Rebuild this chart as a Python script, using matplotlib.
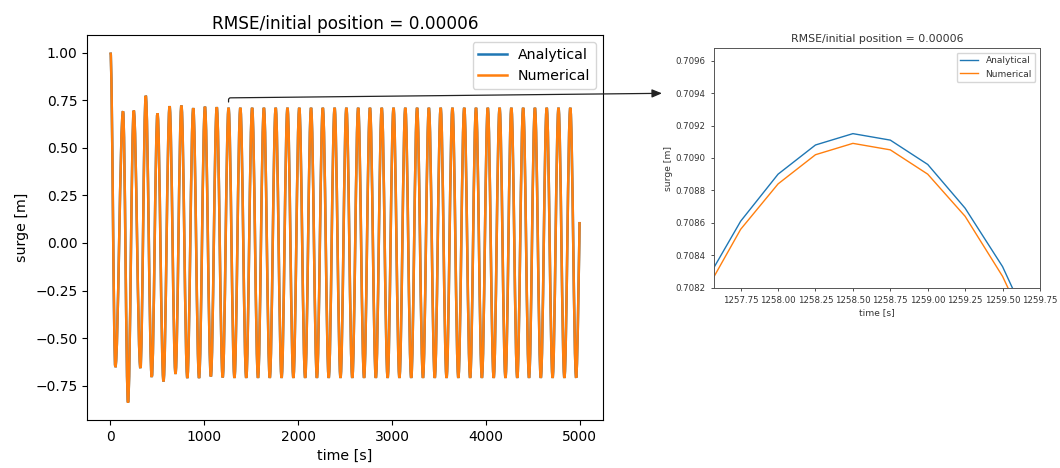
# surge decay: full record on the left, zoom around the 1258.5 s peak on the right

import matplotlib
matplotlib.use('Agg')
import numpy as np
import matplotlib.pyplot as plt
from matplotlib.path import Path
from matplotlib.patches import PathPatch

# extrema of the surge record (time [s], surge [m])
surge_t = [0, 52, 134, 187, 248, 319, 376, 440, 501, 565, 630, 693, 756, 819,
           882, 944, 1007, 1070, 1133, 1196,
           1258.5, 1321.3, 1384.1, 1446.9, 1509.7, 1572.5, 1635.3, 1698.1,
           1760.9, 1823.7, 1886.5, 1949.3, 2012.1, 2074.9, 2137.7, 2200.5,
           2263.3, 2326.1, 2388.9, 2451.7, 2514.5, 2577.3, 2640.1, 2702.9,
           2765.7, 2828.5, 2891.3, 2954.1, 3016.9, 3079.7, 3142.5, 3205.3,
           3268.1, 3330.9, 3393.7, 3456.5, 3519.3, 3582.1, 3644.9, 3707.7,
           3770.5, 3833.3, 3896.1, 3958.9, 4021.7, 4084.5, 4147.3, 4210.1,
           4272.9, 4335.7, 4398.5, 4461.3, 4524.1, 4586.9, 4649.7, 4712.5,
           4775.3, 4838.1, 4900.9, 4963.7, 5000]
surge_analytical = [1.000, -0.652, 0.691, -0.838, 0.695, -0.657, 0.773, -0.704,
                    0.680, -0.727, 0.717, -0.687, 0.721, -0.709, 0.707, -0.709,
                    0.715, -0.701, 0.712, -0.706,
                    0.709, -0.708, 0.709, -0.708, 0.709, -0.708, 0.709, -0.708,
                    0.709, -0.708, 0.709, -0.708, 0.709, -0.708, 0.709, -0.708,
                    0.709, -0.708, 0.709, -0.708, 0.709, -0.708, 0.709, -0.708,
                    0.709, -0.708, 0.709, -0.708, 0.709, -0.708, 0.709, -0.708,
                    0.709, -0.708, 0.709, -0.708, 0.709, -0.708, 0.709, -0.708,
                    0.709, -0.708, 0.709, -0.708, 0.709, -0.708, 0.709, -0.708,
                    0.709, -0.708, 0.709, -0.708, 0.709, -0.708, 0.709, -0.708,
                    0.709, -0.708, 0.709, -0.708, 0.110]
surge_numerical = list(surge_analytical)  # differences are far below pixel size

# zoomed window, 0.25 s steps
zoom_t = [1257.5, 1257.75, 1258.0, 1258.25, 1258.5, 1258.75, 1259.0, 1259.25,
          1259.5, 1259.75]
zoom_analytical = [0.70821, 0.70861, 0.70890, 0.70908, 0.70915, 0.70911,
                   0.70896, 0.70869, 0.70833, 0.70783]
zoom_numerical = [0.70815, 0.70856, 0.70884, 0.70902, 0.70909, 0.70905,
                  0.70890, 0.70864, 0.70827, 0.70778]

title = 'RMSE/initial position = 0.00006'
blue, orange = '#1f77b4', '#ff7f0e'


def extrema_path(t, y):
    # cubic bezier between successive extrema, flat tangent at each extremum
    k = 1 - 2 / np.pi
    verts = [(t[0], y[0])]
    codes = [Path.MOVETO]
    for i in range(len(t) - 1):
        a = k * (t[i + 1] - t[i])
        end = i + 1 == len(t) - 1
        c2 = (t[i + 1], y[i + 1]) if end else (t[i + 1] - a, y[i + 1])
        verts += [(t[i] + a, y[i]), c2, (t[i + 1], y[i + 1])]
        codes += [Path.CURVE4] * 3
    return Path(verts, codes)


fig = plt.figure(figsize=(10.6, 4.68), dpi=100)

######### full record #############
ax = fig.add_axes([0.0821, 0.1026, 0.4868, 0.8226])
ax.add_patch(PathPatch(extrema_path(surge_t, surge_analytical),
                       fc='none', ec=blue, lw=1.8))
ax.add_patch(PathPatch(extrema_path(surge_t, surge_numerical),
                       fc='none', ec=orange, lw=1.8))
ax.plot([], [], color=blue, lw=1.8, label='Analytical')
ax.plot([], [], color=orange, lw=1.8, label='Numerical')
ax.autoscale_view()
ax.set_title(title, fontsize=12.2, pad=4.5)
ax.set_xlabel('time [s]', fontsize=10.2)
ax.set_ylabel('surge [m]', fontsize=10.2)
ax.tick_params(labelsize=10)
ax.legend(loc='upper right', fontsize=10.2)

# arrow from the peak to the zoom panel
ax.annotate('', xy=(0.6245, 0.8006), xycoords='figure fraction',
            xytext=(1258.5, 0.74), textcoords='data',
            arrowprops=dict(arrowstyle='-|>,head_length=0.6,head_width=0.25',
                            connectionstyle='angle,angleA=90,angleB=0.6,rad=2',
                            color='#222222', lw=0.9, shrinkA=0, shrinkB=0),
            annotation_clip=False)

######### zoom #############
grey = '#333333'
az = fig.add_axes([0.6736, 0.3846, 0.3075, 0.5128])
az.plot(zoom_t, zoom_analytical, color=blue, lw=1.0, label='Analytical')
az.plot(zoom_t, zoom_numerical, color=orange, lw=1.0, label='Numerical')
az.set_xlim(1257.572, 1259.75)
az.set_ylim(0.708198, 0.709678)
az.set_xticks([1257.75, 1258.0, 1258.25, 1258.5, 1258.75, 1259.0, 1259.25,
               1259.5, 1259.75])
az.set_yticks([0.7082, 0.7084, 0.7086, 0.7088, 0.7090, 0.7092, 0.7094, 0.7096])
az.set_xticklabels(['{:.2f}'.format(v) for v in az.get_xticks()])
az.set_yticklabels(['{:.4f}'.format(v) for v in az.get_yticks()])
az.tick_params(labelsize=6.2, colors=grey, length=2.5, width=0.6)
for s in az.spines.values():
    s.set_color('#555555')
    s.set_linewidth(0.7)
az.set_title(title, fontsize=7.8, color=grey, pad=4)
az.set_xlabel('time [s]', fontsize=6.6, color=grey, labelpad=2)
az.set_ylabel('surge [m]', fontsize=6.6, color=grey, labelpad=2)
leg = az.legend(loc='upper right', fontsize=6.5)
for t in leg.get_texts():
    t.set_color(grey)

fig.savefig('out.png', dpi=100)
